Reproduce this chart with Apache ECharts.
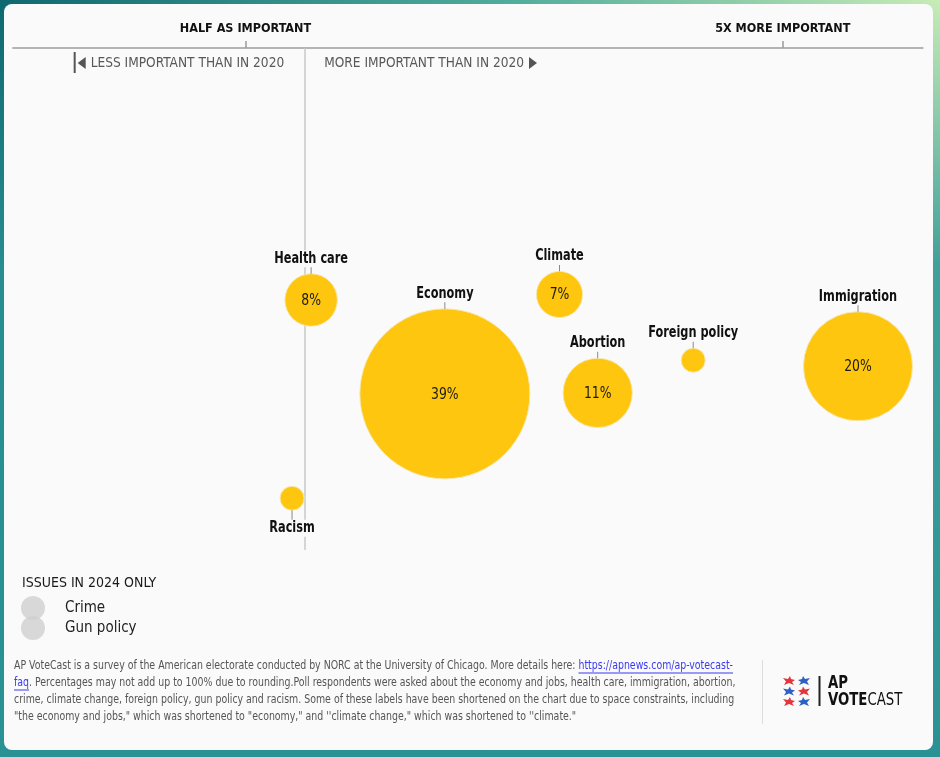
<!DOCTYPE html>
<html>
<head>
<meta charset="utf-8">
<script src="https://cdn.jsdelivr.net/npm/echarts@6/dist/echarts.min.js"></script>
<style>
  html, body { margin:0; padding:0; width:940px; height:757px; overflow:hidden; }
  body {
    background:
      linear-gradient(to bottom, rgba(42,147,150,0) 0%, rgba(42,147,150,0.85) 35%, #2a9195 100%),
      linear-gradient(to right, #0f6870 0%, #52ad9c 55%, #c8ecb6 100%);
  }
  #card { position:absolute; left:4px; top:4px; width:929px; height:746px; background:#fafafa; border-radius:8px; }
  #chart { position:absolute; left:0; top:0; width:940px; height:757px; }
</style>
</head>
<body>
<div id="card"></div>
<div id="chart"></div>
<script>
// ---------------- data ----------------
const issues    = ['Health care', 'Economy', 'Climate', 'Abortion', 'Foreign policy', 'Immigration', 'Racism'];
const xRatio    = [1.05, 2.17, 3.13, 3.45, 4.25, 5.63, 0.89];   // importance vs 2020 (axis units)
const yPos      = [49.8, 31.1, 50.9, 31.3, 37.8, 36.6, 10.3];   // vertical placement (arbitrary units)
const share     = [8, 39, 7, 11, 4, 20, 4];                      // % naming issue most important in 2024
const labelSide = ['top', 'top', 'top', 'top', 'top', 'top', 'bottom'];
const tickValues = [0.5, 5];
const tickLabels = ['HALF AS IMPORTANT', '5X MORE IMPORTANT'];
const onlyIn2024 = ['Crime', 'Gun policy'];
const legendTitle = 'ISSUES IN 2024 ONLY';
const lessText = 'LESS IMPORTANT THAN IN 2020';
const moreText = 'MORE IMPORTANT THAN IN 2020';
const footerLines = [
  ['AP VoteCast is a survey of the American electorate conducted by NORC at the University of Chicago. More details here: ', 'https://apnews.com/ap-votecast-', ''],
  ['', 'faq', '. Percentages may not add up to 100% due to rounding.Poll respondents were asked about the economy and jobs, health care, immigration, abortion,'],
  ['crime, climate change, foreign policy, gun policy and racism. Some of these labels have been shortened on the chart due to space constraints, including', '', ''],
  ['"the economy and jobs," which was shortened to "economy," and \'\'climate change," which was shortened to \'\'climate."', '', '']
];

// ---------------- style ----------------
const COND = "'Liberation Sans Narrow','DejaVu Sans Condensed','Roboto Condensed',Roboto,sans-serif";
const BUBBLE = '#fec60e';
const NARROW = 0.84;   // horizontal squeeze to emulate the condensed face
const mctx = document.createElement('canvas').getContext('2d');
function measure(font, t) { mctx.font = font; return mctx.measureText(t).width; }
function bubbleDiameter(p) { return 34.4 * Math.sqrt(p) - 44.8; }

const chart = echarts.init(document.getElementById('chart'), null, { renderer: 'canvas' });

const seriesData = issues.map((n, i) => [xRatio[i], yPos[i], share[i]]);

const option = {
  animation: false,
  grid: { left: 13, right: 17.3, top: 48, bottom: 207 },
  xAxis: {
    type: 'value', position: 'top', min: -1.447, max: 6.172,
    splitLine: { show: false },
    axisLine: { show: true, onZero: false, lineStyle: { color: '#b4b4b4', width: 2 } },
    axisTick: { show: true, customValues: tickValues, length: 7, lineStyle: { color: '#9a9a9a', width: 1.5 } },
    axisLabel: {
      show: true, customValues: tickValues, margin: 13,
      formatter: v => tickLabels[tickValues.indexOf(v)] || '',
      fontFamily: COND, fontWeight: 'bold', fontSize: 12.5, color: '#111'
    }
  },
  yAxis: { type: 'value', min: 0, max: 100, show: false },
  legend: {
    data: onlyIn2024, orient: 'vertical', left: 21, top: 596, padding: 0,
    icon: 'circle', itemWidth: 24, itemHeight: 24, itemGap: -4,
    selectedMode: false,
    textStyle: { fontFamily: COND, fontSize: 15, color: '#222', padding: [0, 0, 0, 15] }
  },
  series: [
    {
      type: 'line', data: [], z: 1, silent: true,
      markLine: {
        silent: true, symbol: 'none', animation: false,
        label: { show: false },
        lineStyle: { color: '#c9c9c9', width: 1.5, type: 'solid' },
        data: [{ xAxis: 1 }]
      }
    },
    { name: onlyIn2024[0], type: 'scatter', data: [], itemStyle: { color: '#d0d0d0' } },
    { name: onlyIn2024[1], type: 'scatter', data: [], itemStyle: { color: '#d0d0d0' } },
    {
      type: 'custom', z: 5, data: seriesData,
      renderItem: function (params, api) {
        const i = params.dataIndex;
        const pt = api.coord([api.value(0), api.value(1)]);
        const p = api.value(2);
        const r = bubbleDiameter(p) / 2;
        const dir = labelSide[i] === 'bottom' ? 1 : -1;
        const edge = pt[1] + dir * r;
        const ly = edge + dir * (dir > 0 ? 18 : 15);
        const children = [
          { type: 'circle', shape: { cx: pt[0], cy: pt[1], r: r },
            style: { fill: BUBBLE, stroke: '#f6e7b4', lineWidth: 1 } },
          { type: 'line', shape: { x1: pt[0], y1: edge, x2: pt[0], y2: edge + dir * 10 },
            style: { stroke: '#8a8a8a', lineWidth: 1 } },
          { type: 'text', z2: 10, x: pt[0], y: ly, scaleX: NARROW,
            style: { text: issues[i], x: 0, y: 0,
              align: 'center', verticalAlign: 'middle',
              font: 'bold 15px ' + COND, fill: '#111',
              backgroundColor: '#fafafa', padding: [1, 3, 1, 3] } }
        ];
        if (p >= 5) {
          children.push({ type: 'text', x: pt[0], y: pt[1] + 1, scaleX: 0.92,
            style: { text: p + '%', x: 0, y: 0, align: 'center', verticalAlign: 'middle',
              font: '15px ' + COND, fill: '#1a1a1a' } });
        }
        return { type: 'group', children: children };
      }
    }
  ]
};
chart.setOption(option);

// ----- annotations positioned from the axis scale -----
const x1 = chart.convertToPixel({ xAxisIndex: 0 }, 1);
const annFont = '14px ' + COND;
const annScale = 0.97;
const lessW = measure(annFont, lessText) * annScale;
const moreW = measure(annFont, moreText) * annScale;
const lessX = x1 - 21 - lessW;
const moreX = x1 + 19;

// footer: 12px text squeezed to the reference line width
const footFont = '12px ' + COND;
const footScale = 719 / measure(footFont, footerLines[0][0] + footerLines[0][1]);

const graphics = [
  // left arrow group
  { type: 'rect', shape: { x: lessX - 17, y: 52, width: 2, height: 21 }, style: { fill: '#555' } },
  { type: 'polygon', shape: { points: [[lessX - 5, 57], [lessX - 5, 69], [lessX - 13, 63]] }, style: { fill: '#555' } },
  { type: 'text', x: lessX, y: 63, scaleX: annScale, style: { text: lessText, x: 0, y: 0, verticalAlign: 'middle', font: annFont, fill: '#585858' } },
  { type: 'text', x: moreX, y: 63, scaleX: annScale, style: { text: moreText, x: 0, y: 0, verticalAlign: 'middle', font: annFont, fill: '#585858' } },
  { type: 'polygon', shape: { points: [[moreX + moreW + 5, 57], [moreX + moreW + 5, 69], [moreX + moreW + 13, 63]] }, style: { fill: '#555' } },
  // legend title
  { type: 'text', x: 22, y: 583, scaleX: 1.0, style: { text: legendTitle, x: 0, y: 0, verticalAlign: 'middle', font: '14px ' + COND, fill: '#1a1a1a' } },
  // separator + logo
  { type: 'rect', shape: { x: 762, y: 660, width: 1, height: 64 }, style: { fill: '#dcdcdc' } },
  { type: 'rect', shape: { x: 818.5, y: 676, width: 2, height: 30 }, style: { fill: '#222' } },
  { type: 'text', x: 828, y: 683, scaleX: 0.82, style: { text: 'AP', x: 0, y: 0, verticalAlign: 'middle', font: 'bold 18px ' + COND, fill: '#111' } },
  { type: 'text', x: 828, y: 700, scaleX: 0.82, style: { text: '{b|VOTE}{r|CAST}', x: 0, y: 0, verticalAlign: 'middle',
      rich: { b: { font: 'bold 18px ' + COND, fill: '#111' }, r: { font: '18px ' + COND, fill: '#111' } } } }
];

// logo marks (star-like shapes)
function star(x, y, color, flip) {
  const pts = [[0, 2], [5, 3], [7, 0], [8, 3], [12, 4], [9, 6], [11, 9], [6, 7], [1, 9], [3, 5.5]];
  return { type: 'polygon',
    shape: { points: pts.map(q => [flip ? x + 12 - q[0] : x + q[0], y + q[1]]) },
    style: { fill: color } };
}
const RED = '#e4343c', BLUE = '#2f5fc4';
graphics.push(star(783, 676, RED, false), star(798, 676, BLUE, true),
              star(783, 686.5, BLUE, false), star(798, 686.5, RED, true),
              star(783, 697, RED, false), star(798, 697, BLUE, true));

// footer
const footY = [666, 683, 700, 716.5];
footerLines.forEach((ln, k) => {
  let x = 14;
  const y = footY[k];
  if (ln[0]) {
    graphics.push({ type: 'text', x: x, y: y, scaleX: footScale, style: { text: ln[0], x: 0, y: 0, verticalAlign: 'middle', font: footFont, fill: '#555' } });
    x += measure(footFont, ln[0]) * footScale;
  }
  if (ln[1]) {
    const lw = measure(footFont, ln[1]) * footScale;
    graphics.push({ type: 'text', x: x, y: y, scaleX: footScale, style: { text: ln[1], x: 0, y: 0, verticalAlign: 'middle', font: footFont, fill: '#3a3af2' } });
    graphics.push({ type: 'rect', shape: { x: x, y: y + 6.5, width: lw, height: 1 }, style: { fill: '#3a3af2' } });
    x += lw;
  }
  if (ln[2]) {
    graphics.push({ type: 'text', x: x, y: y, scaleX: footScale, style: { text: ln[2], x: 0, y: 0, verticalAlign: 'middle', font: footFont, fill: '#555' } });
  }
});

chart.setOption({ graphic: { elements: graphics } });
</script>
</body>
</html>
